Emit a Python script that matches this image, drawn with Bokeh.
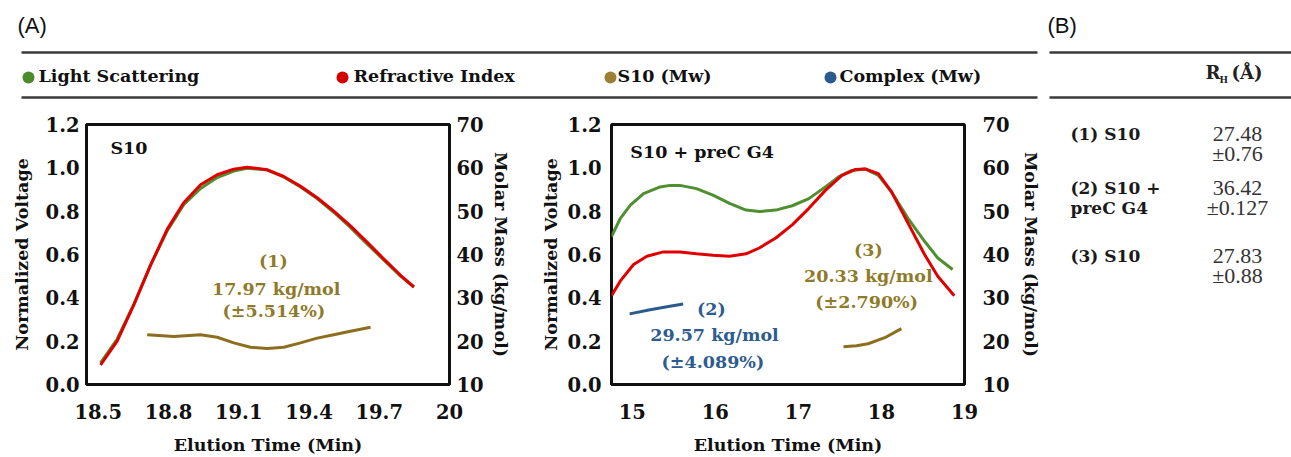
from bokeh.plotting import figure
from bokeh.layouts import column, row
from bokeh.models import Range1d, LinearAxis, FixedTicker, CustomJSTickFormatter
from bokeh.core.properties import value
from bokeh.embed import file_html
from bokeh.resources import INLINE

BSERIF = "DejaVu Serif"          # bold serif face
SERIF = "Liberation Serif"       # regular serif face
SANS = "Liberation Sans"

# ---------------- data ----------------
# Panel 1: S10
s10_time = [18.510, 18.581, 18.652, 18.723, 18.795, 18.865, 18.937, 19.008, 19.079, 19.136,
            19.222, 19.292, 19.364, 19.435, 19.506, 19.577, 19.649, 19.719, 19.791, 19.848]
s10_ri = [0.09, 0.20, 0.367, 0.55, 0.717, 0.839, 0.922, 0.968, 0.994, 1.003,
          0.991, 0.96, 0.915, 0.862, 0.80, 0.732, 0.656, 0.58, 0.504, 0.45]
s10_ls = [0.10, 0.21, 0.37, 0.55, 0.71, 0.83, 0.905, 0.955, 0.985, 0.998,
          0.99, 0.958, 0.912, 0.858, 0.795, 0.725, 0.648, 0.575, 0.50, 0.45]
s10_mw_time = [18.709, 18.823, 18.937, 19.008, 19.079, 19.150, 19.222, 19.292, 19.364,
               19.435, 19.506, 19.577, 19.663]
s10_mw = [21.5, 21.1, 21.5, 20.9, 19.6, 18.6, 18.3, 18.6, 19.6, 20.7, 21.5, 22.3, 23.2]

# Panel 2: S10 + preCG4
mix_ls_time = [14.75, 14.857, 14.977, 15.136, 15.335, 15.454, 15.574, 15.773, 15.971, 16.171,
               16.37, 16.529, 16.728, 16.926, 17.126, 17.325, 17.484, 17.643, 17.803, 17.962,
               18.12, 18.32, 18.519, 18.678, 18.857]
mix_ls = [0.683, 0.767, 0.828, 0.881, 0.912, 0.919, 0.919, 0.904, 0.874, 0.836,
          0.805, 0.798, 0.805, 0.825, 0.858, 0.912, 0.958, 0.988, 0.995, 0.965,
          0.889, 0.767, 0.661, 0.584, 0.531]
mix_ri_time = [14.75, 14.857, 15.016, 15.176, 15.374, 15.574, 15.773, 15.971, 16.171, 16.37,
               16.529, 16.728, 16.926, 17.126, 17.325, 17.524, 17.683, 17.803, 17.962, 18.12,
               18.32, 18.519, 18.678, 18.877]
mix_ri = [0.41, 0.478, 0.554, 0.592, 0.612, 0.612, 0.604, 0.597, 0.592, 0.603,
          0.63, 0.676, 0.737, 0.813, 0.896, 0.965, 0.992, 0.995, 0.973, 0.89,
          0.745, 0.60, 0.50, 0.41]
complex_time = [14.968, 15.2, 15.4, 15.613]
complex_mw = [26.3, 27.2, 27.9, 28.6]
mix_s10_time = [17.543, 17.7, 17.84, 18.04, 18.24]
mix_s10_mw = [18.7, 18.95, 19.4, 20.8, 22.9]

left_ticks_x = [18.5, 18.8, 19.1, 19.4, 19.7, 20.0]
right_ticks_x = [15, 16, 17, 18, 19]
volt_ticks = [0.0, 0.2, 0.4, 0.6, 0.8, 1.0, 1.2]
mass_ticks = [10, 20, 30, 40, 50, 60, 70]

legend_labels = ["Light Scattering", "Refractive Index", "S10 (Mw)", "Complex (Mw)"]
legend_colors = ["#4C8A2A", "#D40000", "#9C7F34", "#2A5B8C"]

table_rows = [["(1) S10"], ["(2) S10 +", "preC G4"], ["(3) S10"]]
rh_values = ["27.48", "36.42", "27.83"]
rh_errors = ["±0.76", "±0.127", "±0.88"]

GREEN, RED, GOLD, BLUE = "#4F8F2F", "#E00000", "#8C6E1E", "#2A5B8C"
GOLD_TXT, BLUE_TXT = "#8F7A2A", "#2D5C8E"
LINE_GRAY = "#3a3a3a"

TICK_SIZE = "19.5px"
TITLE_SIZE = "17.5px"
NOTE_SIZE = "17.5px"


def style_axis(a, label_standoff, axis_label_standoff):
    a.axis_line_color = None
    a.major_tick_line_color = None
    a.minor_tick_line_color = None
    a.major_tick_out = 0
    a.major_tick_in = 0
    a.minor_tick_out = 0
    a.minor_tick_in = 0
    a.major_label_text_font = BSERIF
    a.major_label_text_font_style = "bold"
    a.major_label_text_font_size = TICK_SIZE
    a.major_label_text_color = "#111111"
    a.major_label_standoff = label_standoff
    a.axis_label_text_font = BSERIF
    a.axis_label_text_font_style = "bold"
    a.axis_label_text_font_size = TITLE_SIZE
    a.axis_label_text_color = "#111111"
    a.axis_label_standoff = axis_label_standoff


def make_panel(width, xr, xticks, bl, br, right_label_standoff, right_title_standoff,
               left_label_standoff, left_title_standoff):
    p = figure(width=width, height=347, x_range=Range1d(*xr), y_range=Range1d(0, 1.2),
               output_backend="svg", toolbar_location=None, title=None,
               min_border_left=bl, min_border_right=br, min_border_top=14,
               min_border_bottom=70)
    p.extra_y_ranges = {"mw": Range1d(10, 70)}
    rax = LinearAxis(y_range_name="mw", axis_label="Molar Mass (kg/mol)",
                     ticker=FixedTicker(ticks=mass_ticks),
                     formatter=CustomJSTickFormatter(code="return tick.toFixed(0);"))
    p.add_layout(rax, "right")
    p.grid.visible = False
    p.outline_line_color = "#111111"
    p.outline_line_width = 3
    p.background_fill_color = "white"
    p.border_fill_color = "white"
    p.xaxis.ticker = FixedTicker(ticks=xticks)
    p.xaxis.formatter = CustomJSTickFormatter(
        code="return (Math.round(tick*10)/10).toString();")
    p.xaxis.axis_label = "Elution Time (Min)"
    p.yaxis[0].ticker = FixedTicker(ticks=volt_ticks)
    p.yaxis[0].formatter = CustomJSTickFormatter(code="return tick.toFixed(1);")
    p.yaxis[0].axis_label = "Normalized Voltage"
    style_axis(p.xaxis[0], 19, 13)
    style_axis(p.yaxis[0], left_label_standoff, left_title_standoff)
    style_axis(rax, right_label_standoff, right_title_standoff)
    return p


def note(p, xs, ys, texts, color, align="center"):
    p.text(x=xs, y=ys, text=texts, text_font=value(BSERIF), text_font_style="bold",
           text_font_size=NOTE_SIZE, text_color=color, text_align=align,
           text_baseline="middle")


# ---------------- panel 1 ----------------
p1 = make_panel(530, (18.45, 20.0), left_ticks_x, 86, 81, 7, 4, 7, 11)
p1.line(s10_time, s10_ls, line_color=GREEN, line_width=3)
p1.line(s10_time, s10_ri, line_color=RED, line_width=3)
p1.line(s10_mw_time, s10_mw, y_range_name="mw", line_color=GOLD, line_width=3)
note(p1, [18.552], [1.09], ["S10"], "#111111", "left")
note(p1, [19.248, 19.26, 19.25], [0.571, 0.443, 0.338],
     ["(1)", "17.97 kg/mol", "(±5.514%)"], GOLD_TXT)

# ---------------- panel 2 ----------------
p2 = make_panel(513, (14.75, 19.0), right_ticks_x, 81, 76, 18, 8, 10, 4)
p2.line(mix_ls_time, mix_ls, line_color=GREEN, line_width=3)
p2.line(mix_ri_time, mix_ri, line_color=RED, line_width=3)
p2.line(complex_time, complex_mw, y_range_name="mw", line_color=BLUE, line_width=3)
p2.line(mix_s10_time, mix_s10_mw, y_range_name="mw", line_color=GOLD, line_width=3)
note(p2, [14.977], [1.072], ["S10 + preC G4"], "#111111", "left")
note(p2, [15.952, 15.99, 15.971], [0.348, 0.227, 0.105],
     ["(2)", "29.57 kg/mol", "(±4.089%)"], BLUE_TXT)
note(p2, [17.842, 17.842, 17.822], [0.622, 0.501, 0.379],
     ["(3)", "20.33 kg/mol", "(±2.790%)"], GOLD_TXT)


def blank(width, height):
    f = figure(width=width, height=height, x_range=Range1d(0, width),
               y_range=Range1d(height, 0), output_backend="svg", toolbar_location=None,
               title=None, min_border=0, x_axis_location=None, y_axis_location=None)
    f.grid.visible = False
    f.outline_line_color = None
    f.background_fill_color = "white"
    f.border_fill_color = "white"
    return f


# ---------------- header ----------------
h = blank(1291, 110)
h.text(x=[17, 1047], y=[25, 25], text=["(A)", "(B)"], text_font=value(SANS),
       text_font_size="22px", text_color="#111111", text_align="left", text_baseline="middle")
h.segment(x0=[21, 21, 1049, 1049], y0=[52, 97, 52, 97], x1=[1037, 1037, 1291, 1291],
          y1=[52, 97, 52, 97], line_color=LINE_GRAY, line_width=2.6)
h.scatter(x=[28, 342, 610, 830], y=[77, 77, 77, 77], size=12, color=legend_colors,
          line_color=None)
h.text(x=[38, 353, 617, 839], y=[75, 75, 75, 75], text=legend_labels,
       text_font=value(BSERIF), text_font_style="bold", text_font_size="17.5px",
       text_color="#111111", text_align="left", text_baseline="middle")
h.text(x=[1205], y=[72], text=["R"], text_font=value(BSERIF), text_font_style="bold",
       text_font_size="18px", text_color="#222222", text_align="left", text_baseline="middle")
h.text(x=[1219], y=[79], text=["H"], text_font=value(BSERIF), text_font_style="bold",
       text_font_size="9px", text_color="#222222", text_align="left", text_baseline="middle")
h.text(x=[1231], y=[72], text=["(Å)"], text_font=value(BSERIF), text_font_style="bold",
       text_font_size="18px", text_color="#222222", text_align="left", text_baseline="middle")

# ---------------- table ----------------
t = blank(248, 347)
row_y = [[13], [85, 111], [175]]
val_y = [(13, 39), (85, 111), (175, 201)]
lab_x, lab_y, lab_t = [], [], []
for labels, ys in zip(table_rows, row_y):
    for lab, yy in zip(labels, ys):
        lab_x.append(27)
        lab_y.append(yy)
        lab_t.append(lab)
t.text(x=lab_x, y=lab_y, text=lab_t, text_font=value(BSERIF), text_font_style="bold",
       text_font_size="17px", text_color="#1a1a1a", text_align="left", text_baseline="middle")
v_x, v_y, v_t = [], [], []
for val, err, (y1, y2) in zip(rh_values, rh_errors, val_y):
    v_x += [194, 194]
    v_y += [y1, y2]
    v_t += [val, err]
t.text(x=v_x, y=v_y, text=v_t, text_font=value(SERIF), text_font_size="22px",
       text_color="#333333", text_align="center", text_baseline="middle")

layout = column(h, row(p1, p2, t))
open("out.html", "w").write(file_html(layout, INLINE))
